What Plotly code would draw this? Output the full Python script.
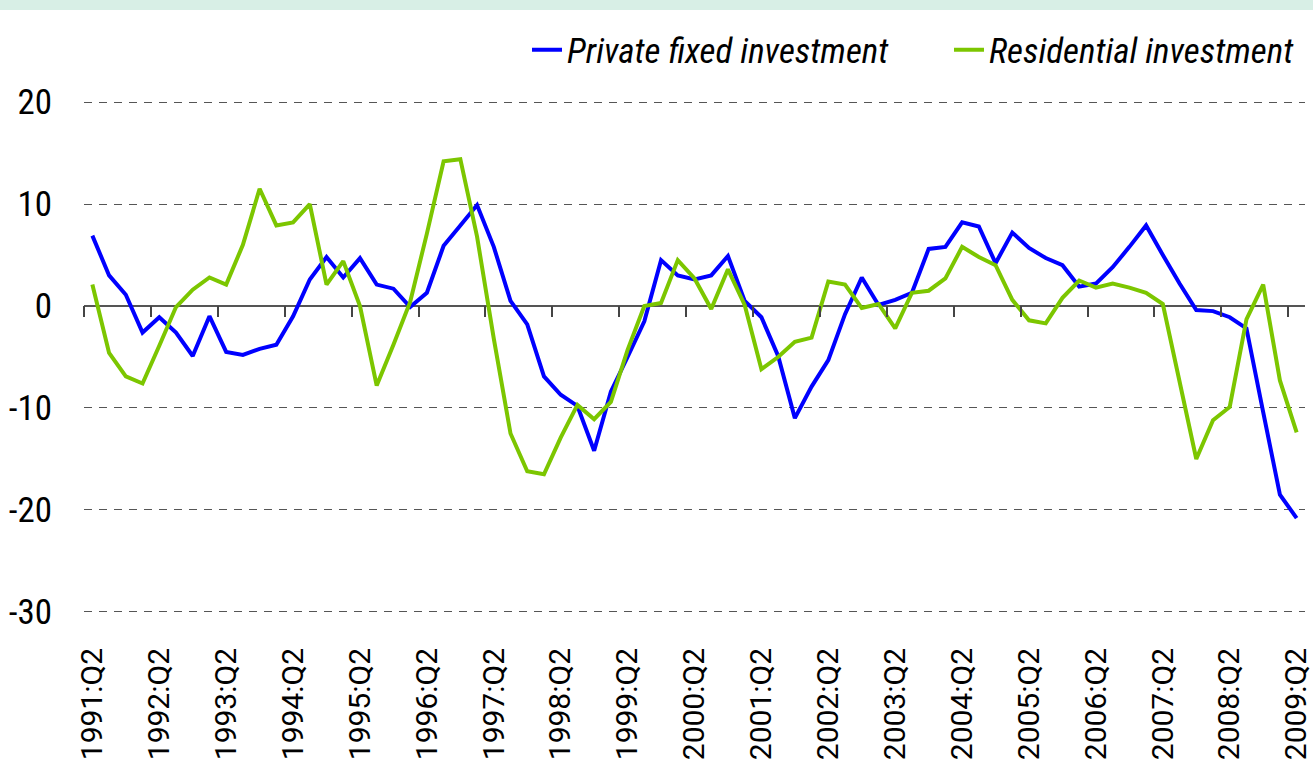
import plotly.graph_objects as go

# Quarterly periods 1991:Q2 .. 2009:Q2
quarters = []
for yr in range(1991, 2010):
    for q in range(1, 5):
        if (yr == 1991 and q < 2) or (yr == 2009 and q > 2):
            continue
        quarters.append(f"{yr}:Q{q}")

tick_labels = [f"{yr}:Q2" for yr in range(1991, 2010)]

private_fixed = [6.9, 3.0, 1.1, -2.6, -1.1, -2.6, -4.9, -1.0, -4.5, -4.8, -4.2, -3.8, -1.0, 2.6,
                 4.8, 2.8, 4.7, 2.1, 1.7, -0.1, 1.3, 5.9, 7.9, 9.9, 5.8, 0.5, -1.8, -6.9, -8.7,
                 -9.8, -14.2, -8.4, -5.0, -1.5, 4.5, 3.0, 2.6, 3.0, 4.9, 0.5, -1.1, -4.9, -11.0,
                 -7.9, -5.3, -0.8, 2.8, 0.1, 0.6, 1.3, 5.6, 5.8, 8.2, 7.8, 4.2, 7.2, 5.7, 4.7,
                 4.0, 1.9, 2.2, 3.8, 5.8, 7.9, 5.0, 2.2, -0.4, -0.5, -1.1, -2.2, -10.4, -18.5, -20.8]

residential = [2.1, -4.6, -6.9, -7.6, -3.9, -0.1, 1.6, 2.8, 2.1, 6.0, 11.5, 7.9, 8.2, 10.0,
               2.1, 4.4, 0.0, -7.8, -3.8, 0.4, 7.1, 14.2, 14.4, 6.8, -3.2, -12.5, -16.2, -16.5,
               -12.9, -9.7, -11.1, -9.4, -4.3, 0.0, 0.3, 4.5, 2.7, -0.3, 3.6, 0.1, -6.2, -5.0,
               -3.5, -3.1, 2.4, 2.1, -0.2, 0.2, -2.2, 1.3, 1.5, 2.7, 5.8, 4.8, 4.0, 0.6, -1.4,
               -1.7, 0.8, 2.5, 1.8, 2.2, 1.8, 1.3, 0.2, -7.2, -15.0, -11.2, -9.9, -1.3, 2.1,
               -7.3, -12.4]

series_names = ["Private fixed investment", "Residential investment"]
series_colors = ["#0000ff", "#7cc600"]
series_axes = ["x", "x2"]

y_min, y_max = -30, 20
x_idx = list(range(len(quarters)))
label_idx = [quarters.index(t) for t in tick_labels]

fig = go.Figure()
for name, vals, col, ax in zip(series_names, [private_fixed, residential], series_colors, series_axes):
    fig.add_trace(go.Scatter(x=x_idx, y=vals, mode="lines", name=name, xaxis=ax, yaxis="y",
                             customdata=quarters, hovertemplate="%{customdata}: %{y}<extra></extra>",
                             line=dict(color=col, width=4)))

x_range = [-0.5, len(quarters) - 0.5]
narrow = "Liberation Sans Narrow, Arial Narrow, Roboto Condensed, sans-serif"
legend_font = dict(family=narrow, size=35, color="black", style="italic")

fig.update_layout(
    width=1313, height=760,
    margin=dict(l=84, r=8, t=99, b=145, autoexpand=False),
    plot_bgcolor="white", paper_bgcolor="white",
    showlegend=True,
    legend=dict(orientation="h", x=(527 - 84) / 1221, xanchor="left", y=1.095, yanchor="middle",
                font=legend_font, bgcolor="rgba(0,0,0,0)", itemwidth=30,
                entrywidth=377, entrywidthmode="pixels", traceorder="normal"),
    xaxis=dict(type="linear", range=x_range, tickmode="array", tickvals=label_idx,
               ticktext=tick_labels, tickangle=-90, showgrid=False, zeroline=False,
               showline=False, ticks="", ticklabelstandoff=26, automargin=False,
               ticklabeloverflow="allow",
               tickfont=dict(family="Roboto, sans-serif", size=30, color="black")),
    xaxis2=dict(type="linear", range=x_range, overlaying="x", anchor="free",
                position=(0 - y_min) / (y_max - y_min), side="bottom",
                tickmode="array", tickvals=[i - 0.5 for i in label_idx],
                ticks="outside", ticklen=11, tickwidth=1.5, tickcolor="#444",
                showticklabels=False, showgrid=False, zeroline=False, showline=False,
                automargin=False),
    yaxis=dict(range=[y_min - 0.3, y_max + 0.3], tickmode="array",
               tickvals=[20, 10, 0, -10, -20, -30], ticktext=["20", "10", "0", "-10", "-20", "-30"],
               showgrid=True, gridcolor="#555", gridwidth=1, griddash="8px,7px",
               zeroline=True, zerolinecolor="#555", zerolinewidth=2,
               showline=False, ticks="", ticklabelstandoff=31, automargin=False,
               tickfont=dict(family=narrow, size=35, color="black")),
    shapes=[dict(type="rect", xref="paper", yref="paper", x0=-0.1, x1=1.1,
                 y0=1 + 89 / 516, y1=1 + 110 / 516, fillcolor="#d8efe6", line=dict(width=0),
                 layer="above")],
)

fig.write_html("out.html", config={"displayModeBar": False},
               post_script="document.body.style.margin='0';document.body.style.overflow='hidden';")
